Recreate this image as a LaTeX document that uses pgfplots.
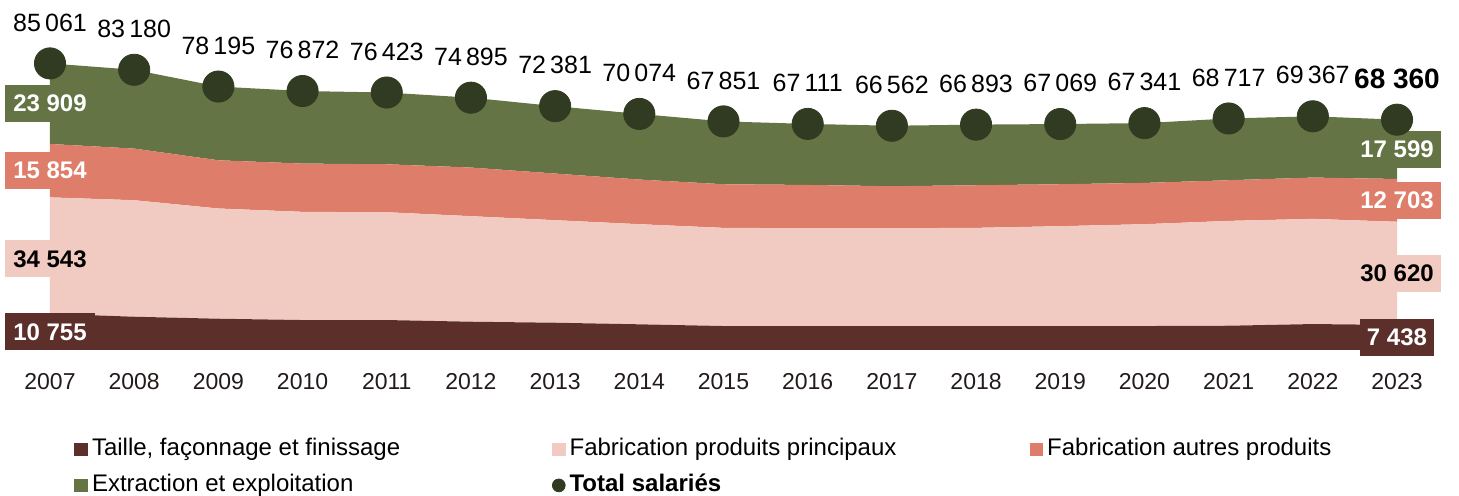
\documentclass[border=0pt]{standalone}
\usepackage{fontspec}
\setmainfont{Liberation Sans}
\usepackage{pgfplots}
\usepackage{pgfplotstable}
\pgfplotsset{compat=1.18}
\definecolor{ctaille}{HTML}{5C2F2B}
\definecolor{cprinc}{HTML}{F1CBC2}
\definecolor{cautres}{HTML}{DE7D69}
\definecolor{cextr}{HTML}{647444}
\definecolor{cdot}{HTML}{303B22}
\definecolor{ctick}{HTML}{231A1A}
\tikzset{lbl/.style={font=\fontsize{12}{14}\selectfont\bfseries, inner xsep=3.5pt, minimum height=18.5pt, anchor=center}}
\pgfplotstableread{
year taille princ autres extr
2007 10755 34543 15854 23909
2008 9870 34590 15320 23400
2009 9280 32720 14310 21885
2010 8890 32110 14330 21542
2011 8890 32010 14230 21293
2012 8390 31330 14430 20745
2013 8090 30440 13840 20011
2014 7620 29720 13250 19484
2015 7110 29140 12950 18651
2016 7110 29050 12830 18121
2017 7110 29050 12450 17952
2018 7110 29140 12650 17993
2019 7110 29640 12450 17869
2020 7110 30230 12250 17751
2021 7200 31120 12070 18327
2022 7700 31220 12260 18187
2023 7438 30620 12703 17599
}\data
\begin{document}
\begin{tikzpicture}
\path[use as bounding box] (0,0) rectangle (729.5pt,248pt);
\pgfplotsset{common/.style={at={(25pt,73pt)}, anchor=south west, scale only axis,
  width=673.5pt, height=168.45pt, xmin=2007, xmax=2023, ymin=0, ymax=100000, clip=false}}
\begin{axis}[common, stack plots=y, hide y axis, axis x line*=bottom,
  x axis line style={draw=none}, major tick length=0pt,
  xtick={2007,2008,...,2023},
  xticklabel style={font=\fontsize{11.5}{13}\selectfont, text=ctick, yshift=-8pt,
    /pgf/number format/1000 sep={}, /pgf/number format/assume math mode=true}]
\addplot[fill=ctaille, draw=none] table[x=year, y=taille] {\data} \closedcycle;
\addplot[fill=cprinc, draw=none] table[x=year, y=princ] {\data} \closedcycle;
\addplot[fill=cautres, draw=none] table[x=year, y=autres] {\data} \closedcycle;
\addplot[fill=cextr, draw=none] table[x=year, y=extr] {\data} \closedcycle;
\end{axis}
\begin{axis}[common, axis lines=none,
  legend columns=3,
  legend style={at={(0,0)}, anchor=north west, xshift=12pt, yshift=-43.5pt, draw=none, fill=none,
    inner sep=0pt, row sep=6pt, cells={anchor=west},
    nodes={inner sep=0pt, text height=9pt, text depth=3pt},
    font=\fontsize{12}{14}\selectfont, text=black}]
\node[lbl, fill=ctaille, text=white, minimum width=45pt] at (axis cs:2007,5377) {10 755};
\node[lbl, fill=cprinc, text=black, minimum width=45pt] at (axis cs:2007,27026) {34 543};
\node[lbl, fill=cautres, text=white, minimum width=45pt] at (axis cs:2007,53225) {15 854};
\node[lbl, fill=cextr, text=white, minimum width=45pt] at (axis cs:2007,73106) {23 909};
\node[lbl, fill=ctaille, text=white] at (axis cs:2023,3719) {7 438};
\node[lbl, fill=cprinc, text=black] at (axis cs:2023,22748) {30 620};
\node[lbl, fill=cautres, text=white] at (axis cs:2023,44409) {12 703};
\node[lbl, fill=cextr, text=white] at (axis cs:2023,59560) {17 599};
\addlegendimage{legend image code/.code={\fill[ctaille] (0pt,-3.2pt) rectangle (6.4pt,3.2pt);}}
\addlegendentry{\hspace{2pt}\makebox[230pt][l]{Taille, façonnage et finissage}}
\addlegendimage{legend image code/.code={\fill[cprinc] (0pt,-3.2pt) rectangle (6.4pt,3.2pt);}}
\addlegendentry{\hspace{2pt}\makebox[230pt][l]{Fabrication produits principaux}}
\addlegendimage{legend image code/.code={\fill[cautres] (0pt,-3.2pt) rectangle (6.4pt,3.2pt);}}
\addlegendentry{\hspace{2pt}\makebox[150pt][l]{Fabrication autres produits}}
\addlegendimage{legend image code/.code={\fill[cextr] (0pt,-3.2pt) rectangle (6.4pt,3.2pt);}}
\addlegendentry{\hspace{2pt}\makebox[230pt][l]{Extraction et exploitation}}
\addplot[only marks, mark=*, mark size=7.8pt, color=cdot, mark options={draw=none, fill=cdot},
  nodes near coords, point meta=explicit symbolic,
  every node near coord/.append style={anchor=center, yshift=20.5pt, text=black, font=\fontsize{12.5}{14}\selectfont},
  legend image code/.code={\fill[cdot] (3.2pt,0pt) circle (3.2pt);}]
coordinates {
(2007,85061) [85\,061]
(2008,83180) [83\,180]
(2009,78195) [78\,195]
(2010,76872) [76\,872]
(2011,76423) [76\,423]
(2012,74895) [74\,895]
(2013,72381) [72\,381]
(2014,70074) [70\,074]
(2015,67851) [67\,851]
(2016,67111) [67\,111]
(2017,66562) [66\,562]
(2018,66893) [66\,893]
(2019,67069) [67\,069]
(2020,67341) [67\,341]
(2021,68717) [68\,717]
(2022,69367) [69\,367]
(2023,68360) [{\fontsize{14}{16}\selectfont\bfseries 68 360}]
};
\addlegendentry{\hspace{2pt}\textbf{Total salariés}}
\end{axis}
\end{tikzpicture}
\end{document}
